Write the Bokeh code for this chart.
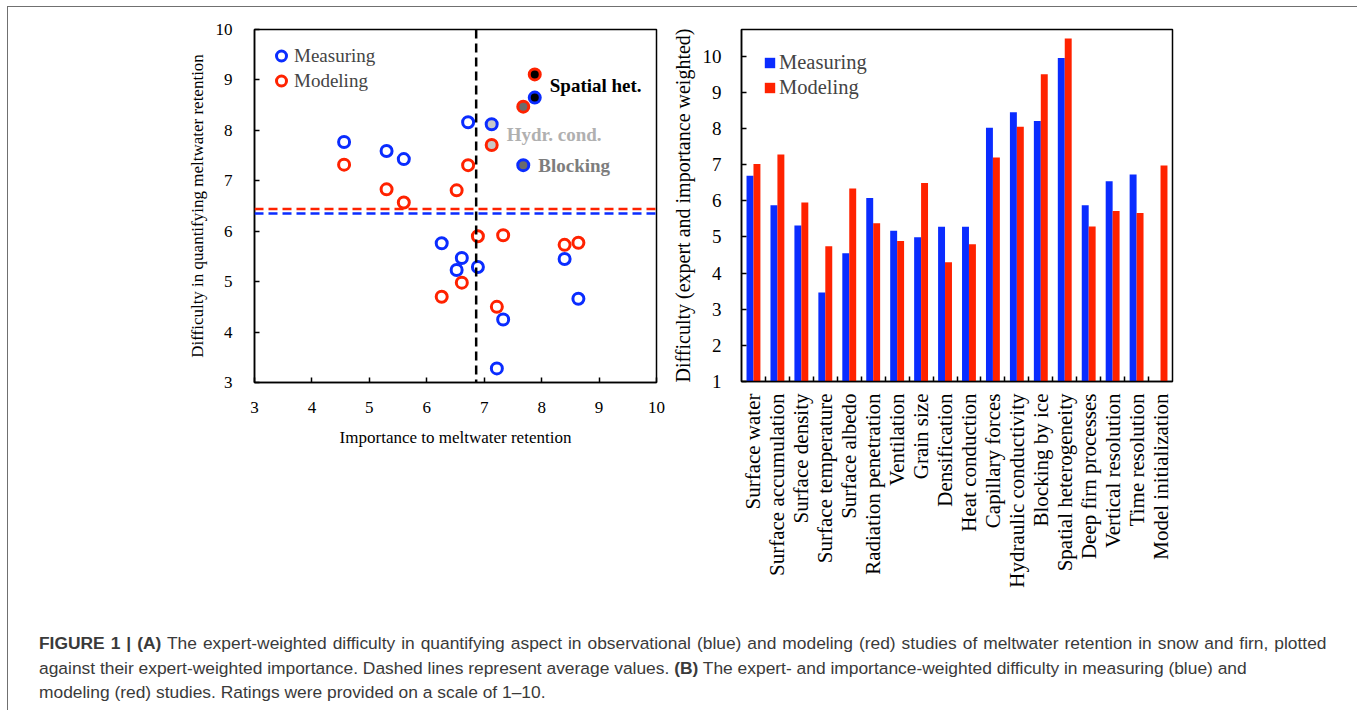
import math
from bokeh.plotting import figure
from bokeh.models import (Span, Legend, LegendItem, FixedTicker, Range1d, Div,
                          ColumnDataSource)
from bokeh.layouts import row, column
from bokeh.core.properties import value
from bokeh.embed import file_html
from bokeh.resources import INLINE

# ---------------- Panel A data (importance vs difficulty) ----------------
meas_importance = [4.56, 5.30, 5.60, 6.72, 6.26, 6.61, 6.52, 6.89, 8.40, 8.64, 7.33, 7.22]
meas_difficulty = [7.77, 7.59, 7.43, 8.16, 5.76, 5.47, 5.23, 5.29, 5.45, 4.66, 4.25, 3.28]
model_importance = [4.56, 5.30, 5.60, 6.52, 6.72, 6.89, 7.33, 8.40, 8.64, 6.61, 6.26, 7.22]
model_difficulty = [7.32, 6.83, 6.57, 6.81, 7.31, 5.90, 5.92, 5.73, 5.77, 4.98, 4.70, 4.50]

highlight_names = ["Spatial het.", "Hydr. cond.", "Blocking"]
highlight_meas_importance = [7.88, 7.13, 7.68]
highlight_meas_difficulty = [8.65, 8.12, 7.31]
highlight_model_importance = [7.88, 7.13, 7.68]
highlight_model_difficulty = [9.11, 7.71, 8.47]
highlight_label_at_mean = [True, True, False]   # label between the pair or at measuring point

mean_meas_difficulty = 6.35
mean_model_difficulty = 6.44
mean_importance = 6.86

x_ticks_a = [3, 4, 5, 6, 7, 8, 9, 10]
y_ticks_a = [3, 4, 5, 6, 7, 8, 9, 10]

# ---------------- Panel B data (bar chart) ----------------
aspects = ["Surface water", "Surface accumulation", "Surface density", "Surface temperature",
           "Surface albedo", "Radiation penetration", "Ventilation", "Grain size",
           "Densification", "Heat conduction", "Capillary forces", "Hydraulic conductivity",
           "Blocking by ice", "Spatial heterogeneity", "Deep firn processes",
           "Vertical resolution", "Time resolution", "Model initialization"]
measuring = [6.69, 5.88, 5.32, 3.46, 4.55, 6.08, 5.17, 4.99, 5.28, 5.28, 8.02, 8.45,
             8.21, 9.95, 5.88, 6.54, 6.73, float("nan")]
modeling = [7.02, 7.28, 5.95, 4.74, 6.34, 5.38, 4.89, 6.49, 4.30, 4.80, 7.20, 8.05,
            9.50, 10.49, 5.29, 5.72, 5.66, 6.98]
y_ticks_b = [1, 2, 3, 4, 5, 6, 7, 8, 9, 10]

# ---------------- styles ----------------
BLUE = "#0a2cff"
RED = "#ff2200"
SERIF = "Liberation Serif"
hl_fill = ["#000000", "#c8c8c8", "#6b6b6b"]
hl_text = ["#000000", "#b0b0b0", "#7d7d7d"]


def style_axes(p, tick_size):
    for ax in (p.xaxis[0], p.yaxis[0]):
        ax.axis_line_color = "black"
        ax.axis_line_width = 1.5
        ax.major_tick_line_color = "black"
        ax.major_tick_line_width = 1.5
        ax.major_tick_in = 5
        ax.major_tick_out = 0
        ax.minor_tick_in = 0
        ax.minor_tick_out = 0
        ax.major_label_text_font = SERIF
        ax.major_label_text_font_size = tick_size
        ax.major_label_text_color = "black"
        ax.axis_label_text_font = SERIF
        ax.axis_label_text_font_style = "normal"
        ax.axis_label_text_color = "black"
    p.xgrid.visible = False
    p.ygrid.visible = False
    p.outline_line_color = "black"
    p.outline_line_width = 1.5
    p.outline_line_alpha = 1.0


# ================= Panel A =================
p1 = figure(frame_width=402, frame_height=353, x_range=Range1d(3, 10), y_range=Range1d(3, 10),
            output_backend="svg", toolbar_location=None,
            min_border_left=246, min_border_right=12, min_border_top=22, min_border_bottom=40)
style_axes(p1, "17px")
p1.xaxis.ticker = FixedTicker(ticks=x_ticks_a)
p1.yaxis.ticker = FixedTicker(ticks=y_ticks_a)
p1.xaxis.axis_label = "Importance to meltwater retention"
p1.yaxis.axis_label = "Difficulty in quantifying meltwater retention"
p1.xaxis.axis_label_text_font_size = "17px"
p1.yaxis.axis_label_text_font_size = "17px"
p1.xaxis.major_label_standoff = 19
p1.yaxis.major_label_standoff = 22
p1.xaxis.axis_label_standoff = 12
p1.yaxis.axis_label_standoff = 6

p1.add_layout(Span(location=mean_model_difficulty, dimension="width", line_color=RED,
                   line_dash="9 5", line_width=2.5))
p1.add_layout(Span(location=mean_meas_difficulty, dimension="width", line_color=BLUE,
                   line_dash="9 5", line_width=2.5))
p1.add_layout(Span(location=mean_importance, dimension="height", line_color="black",
                   line_dash="9 5", line_width=2.5))

r_meas = p1.scatter(meas_importance, meas_difficulty, marker="circle", size=11,
                    fill_color=None, line_color=BLUE, line_width=3)
r_model = p1.scatter(model_importance, model_difficulty, marker="circle", size=11,
                     fill_color=None, line_color=RED, line_width=3)
p1.scatter(highlight_meas_importance, highlight_meas_difficulty, marker="circle", size=11,
           fill_color=hl_fill, line_color=BLUE, line_width=3)
p1.scatter(highlight_model_importance, highlight_model_difficulty, marker="circle", size=11,
           fill_color=hl_fill, line_color=RED, line_width=3)

label_y = [(a + b) / 2 if mid else a for a, b, mid in
           zip(highlight_meas_difficulty, highlight_model_difficulty, highlight_label_at_mean)]
lab_src = ColumnDataSource(dict(x=highlight_meas_importance, y=label_y,
                                text=highlight_names, color=hl_text))
p1.text(x="x", y="y", text="text", source=lab_src, text_color="color",
        text_font=value(SERIF), text_font_style="bold", text_font_size="19px",
        text_baseline="middle", text_align="left", x_offset=15)

leg1 = Legend(items=[LegendItem(label="Measuring", renderers=[r_meas]),
                     LegendItem(label="Modeling", renderers=[r_model])],
              location="top_left", glyph_width=26, glyph_height=25, label_standoff=-7,
              spacing=0, padding=4, margin=10, border_line_alpha=0, background_fill_alpha=0,
              label_text_font=SERIF, label_text_font_size="19px")
p1.add_layout(leg1)

# ================= Panel B =================
p2 = figure(frame_width=431, frame_height=352, x_range=Range1d(0, len(aspects)),
            y_range=Range1d(1, 10.74), output_backend="svg", toolbar_location=None,
            min_border_left=73, min_border_right=180, min_border_top=22, min_border_bottom=40)
style_axes(p2, "19px")
centers = [i + 0.5 for i in range(len(aspects))]
p2.yaxis.ticker = FixedTicker(ticks=y_ticks_b)
p2.xaxis.ticker = FixedTicker(ticks=centers, minor_ticks=list(range(1, len(aspects))))
p2.xaxis.major_label_overrides = {c: a for c, a in zip(centers, aspects)}
p2.xaxis.major_tick_in = 0
p2.xaxis.minor_tick_in = 5
p2.xaxis.minor_tick_out = 0
p2.xaxis.minor_tick_line_color = "black"
p2.xaxis.minor_tick_line_width = 1.5
p2.xaxis.major_label_orientation = math.pi / 2
p2.xaxis.major_label_text_font_size = "21px"
p2.xaxis.major_label_standoff = 12
p2.yaxis.major_label_standoff = 20
p2.yaxis.axis_label = "Difficulty (expert and importance weighted)"
p2.yaxis.axis_label_text_font_size = "20px"
p2.yaxis.axis_label_standoff = 6

bw = 0.29
src_b = ColumnDataSource(dict(xb=[c - bw / 2 for c in centers], xr=[c + bw / 2 for c in centers],
                              meas=measuring, mod=modeling))
rb = p2.vbar(x="xb", top="meas", bottom=1, width=bw, source=src_b, fill_color=BLUE,
             line_color=None)
rr = p2.vbar(x="xr", top="mod", bottom=1, width=bw, source=src_b, fill_color=RED,
             line_color=None)
leg2 = Legend(items=[LegendItem(label="Measuring", renderers=[rb]),
                     LegendItem(label="Modeling", renderers=[rr])],
              location="top_left", glyph_width=13, glyph_height=13, label_standoff=3,
              spacing=2, padding=4, margin=18, border_line_alpha=0, background_fill_alpha=0,
              label_text_font=SERIF, label_text_font_size="20.5px")
p2.add_layout(leg2)

# ================= Caption =================
caption_html = (
    '<div style="font-family: \'Liberation Sans\', Arial, sans-serif; font-size: 17.4px; '
    'line-height: 24.5px; color: #3a3a3a; white-space: nowrap; padding-left: 26px; '
    'padding-top: 36px;">'
    '<span style="word-spacing: 1.15px;"><b>FIGURE 1 | (A)</b> The expert-weighted difficulty '
    'in quantifying aspect in observational (blue) and modeling (red) studies of meltwater '
    'retention in snow and firn, plotted</span><br>'
    'against their expert-weighted importance. Dashed lines represent average values. '
    '<b>(B)</b> The expert- and importance-weighted difficulty in measuring (blue) and<br>'
    'modeling (red) studies. Ratings were provided on a scale of 1\u201310.</div>'
)
cap = Div(text=caption_html, width=1345, height=110)

layout = column(row(p1, p2), cap,
                styles={"border-top": "1.5px solid #707070",
                        "border-left": "1.5px solid #707070",
                        "border-right": "1.5px solid #707070",
                        "margin-left": "7px", "margin-top": "6px"})

open("out.html", "w").write(file_html(layout, INLINE))
